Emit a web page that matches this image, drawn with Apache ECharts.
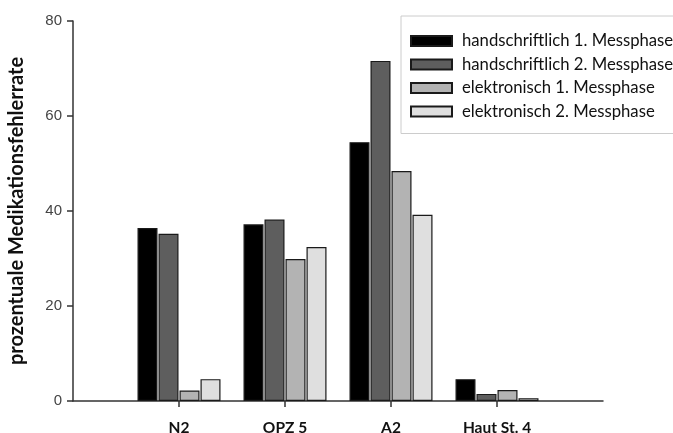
<!DOCTYPE html>
<html>
<head>
<meta charset="utf-8">
<script src="https://cdn.jsdelivr.net/npm/echarts@6/dist/echarts.min.js"></script>
<style>html,body{margin:0;padding:0;background:#fff;}#c{width:673px;height:433px;}</style>
</head>
<body>
<div id="c"></div>
<script>
const categories = ['', 'N2', 'OPZ 5', 'A2', 'Haut St. 4', ''];
const seriesNames = ['handschriftlich 1. Messphase', 'handschriftlich 2. Messphase', 'elektronisch 1. Messphase', 'elektronisch 2. Messphase'];
const hand1 = [null, 36.4, 37.2, 54.5, 4.6, null];
const hand2 = [null, 35.2, 38.2, 71.6, 1.5, null];
const elek1 = [null, 2.2, 29.9, 48.4, 2.3, null];
const elek2 = [null, 4.6, 32.4, 39.2, 0.6, null];
const yTicks = [0, 20, 40, 60, 80];
const colors = ['#000000', '#5e5e5e', '#b3b3b3', '#dfdfdf'];

const values = [hand1, hand2, elek1, elek2];
const chart = echarts.init(document.getElementById('c'), null, {renderer: 'canvas'});
chart.setOption({
  animation: false,
  grid: {left: 73, right: 70, top: 21, bottom: 32, containLabel: false, outerBoundsMode: 'none'},
  legend: {
    orient: 'vertical',
    left: 401, top: 16,
    padding: [16, 2, 13, 9],
    itemWidth: 41, itemHeight: 10, itemGap: 5.5,
    borderColor: '#cccccc', borderWidth: 1,
    icon: 'rect',
    textStyle: {fontFamily: 'Lato', fontSize: 16.7, color: '#111', padding: [0, 0, 0, 5], lineHeight: 18},
    data: seriesNames
  },
  xAxis: {
    type: 'category',
    data: categories,
    boundaryGap: false,
    axisLine: {lineStyle: {color: '#333', width: 1.5}},
    axisTick: {show: true, inside: false, length: 6, interval: function (i) { return i > 0 && i < categories.length - 1; }, lineStyle: {color: '#333', width: 1.5}},
    axisLabel: {interval: 0, margin: 19, fontFamily: 'Lato', fontWeight: 'bold', fontSize: 15.5, color: '#111'},
    splitLine: {show: false}
  },
  yAxis: {
    type: 'value',
    min: 0, max: 80, interval: 20,
    name: 'prozentuale Medikationsfehlerrate',
    nameLocation: 'middle',
    nameGap: 46,
    nameTextStyle: {fontFamily: 'Lato', fontWeight: 'bold', fontSize: 20, color: '#111'},
    axisLine: {show: true, lineStyle: {color: '#333', width: 1.5}},
    axisTick: {show: true, length: 6, lineStyle: {color: '#333', width: 1.5}},
    axisLabel: {margin: 11, fontFamily: 'Liberation Sans', fontSize: 15, color: '#444',
      formatter: function (v) { return yTicks.indexOf(v) >= 0 ? String(v) : ''; }},
    splitLine: {show: false}
  },
  series: seriesNames.map(function (name, i) {
    return {
      name: name,
      type: 'bar',
      data: values[i],
      barWidth: 20,
      barGap: '5%',
      itemStyle: {color: colors[i], borderColor: '#1a1a1a', borderWidth: 1.2}
    };
  })
});
</script>
</body>
</html>
